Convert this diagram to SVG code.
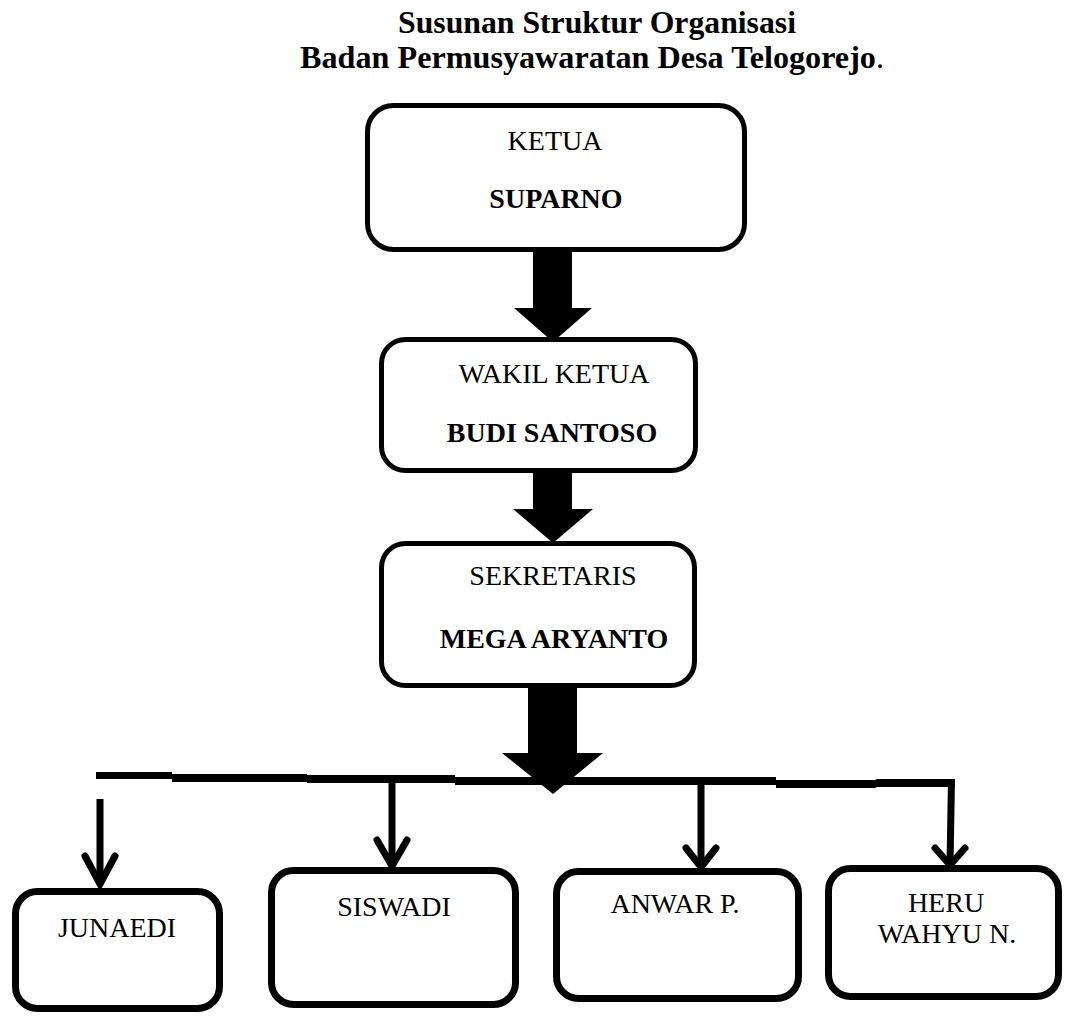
<svg xmlns="http://www.w3.org/2000/svg" width="1065" height="1017" viewBox="0 0 1065 1017">
<style>
.t{font-family:"Liberation Serif","Times New Roman",serif;fill:#000;text-anchor:middle}
.h{font-size:31px;font-weight:bold}
.r{font-size:28px}
.b{font-size:28px;font-weight:bold}
.box{fill:#fff;stroke:#000;stroke-width:5}
.sbox{fill:#fff;stroke:#000;stroke-width:7}
.ln{fill:none;stroke:#000;stroke-width:7;stroke-linecap:butt}
.hd{fill:none;stroke:#000;stroke-width:7;stroke-linecap:round;stroke-linejoin:miter}
</style>
<rect width="1065" height="1017" fill="#fff"/>
<g id="title">
<text class="t h" x="597" y="33" textLength="398" lengthAdjust="spacingAndGlyphs">Susunan Struktur Organisasi</text>
<text class="t h" x="592" y="68" textLength="584" lengthAdjust="spacingAndGlyphs">Badan Permusyawaratan Desa Telogorejo<tspan font-weight="normal">.</tspan></text>
</g>
<g id="connectors">
<rect x="533" y="250" width="39" height="60"/>
<polygon points="514,308 592,308 553,342"/>
<rect x="533" y="471" width="39" height="40"/>
<polygon points="513,509 593,509 553,543"/>
<rect x="528" y="682" width="49" height="73"/>
<polygon points="502,753 603,753 553,794"/>
<rect x="96" y="772" width="76" height="7"/>
<rect x="172" y="774" width="135" height="8"/>
<rect x="307" y="775" width="148" height="8"/>
<rect x="455" y="777" width="169" height="8"/>
<rect x="624" y="777" width="152" height="8"/>
<rect x="776" y="780" width="100" height="8"/>
<rect x="876" y="779" width="79" height="8"/>
<line class="ln" x1="100" y1="799" x2="100" y2="884"/>
<polyline class="hd" points="85,856 100,884 115,856"/>
<line class="ln" x1="392" y1="781" x2="392" y2="866"/>
<polyline class="hd" points="377,840 392,866 407,840"/>
<line class="ln" x1="701" y1="782" x2="701" y2="867"/>
<polyline class="hd" points="686,848 701,867 716,848"/>
<line class="ln" x1="951.5" y1="779" x2="950" y2="865"/>
<polyline class="hd" points="935,848 950,865 965,848"/>
</g>
<g id="ketua">
<rect class="box" x="367.5" y="105.5" width="377" height="144" rx="26"/>
<text class="t r" x="555" y="150">KETUA</text>
<text class="t b" x="556" y="208">SUPARNO</text>
</g>
<g id="wakil">
<rect class="box" x="381.5" y="339.5" width="314" height="131" rx="24"/>
<text class="t r" x="554" y="383">WAKIL KETUA</text>
<text class="t b" x="552" y="442">BUDI SANTOSO</text>
</g>
<g id="sekretaris">
<rect class="box" x="381.5" y="543.5" width="313" height="142" rx="24"/>
<text class="t r" x="553" y="585">SEKRETARIS</text>
<text class="t b" x="554" y="648">MEGA ARYANTO</text>
</g>
<g id="junaedi">
<rect class="sbox" x="15.5" y="891.5" width="204" height="117" rx="22"/>
<text class="t r" x="117" y="937">JUNAEDI</text>
</g>
<g id="siswadi">
<rect class="sbox" x="271.5" y="870.5" width="244" height="134" rx="22"/>
<text class="t r" x="394" y="916">SISWADI</text>
</g>
<g id="anwar">
<rect class="sbox" x="556.5" y="871.5" width="242" height="127" rx="22"/>
<text class="t r" x="675" y="913">ANWAR P.</text>
</g>
<g id="heru">
<rect class="sbox" x="828.5" y="868.5" width="230" height="128" rx="22"/>
<text class="t r" x="946" y="912">HERU</text>
<text class="t r" x="947" y="943">WAHYU N.</text>
</g>
</svg>
